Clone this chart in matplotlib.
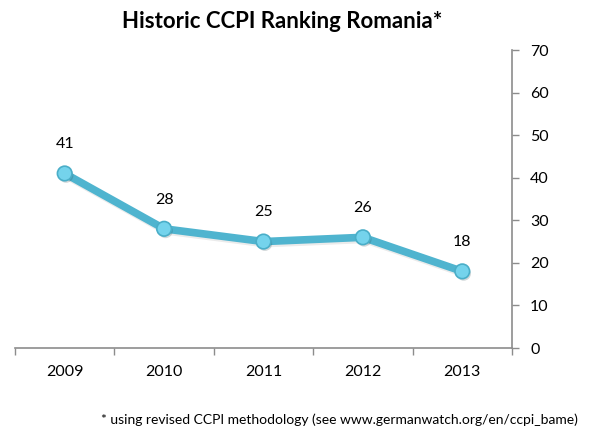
import matplotlib
matplotlib.use("Agg")
import matplotlib.pyplot as plt
import matplotlib.patheffects as pe

years = ["2009", "2010", "2011", "2012", "2013"]
ranks = [41, 28, 25, 26, 18]
yticks = [0, 10, 20, 30, 40, 50, 60, 70]
title = "Historic CCPI Ranking Romania*"
footnote = "* using revised CCPI methodology (see www.germanwatch.org/en/ccpi_bame)"

plt.rcParams['font.family'] = ['Lato', 'DejaVu Sans']

fig = plt.figure(figsize=(5.93, 4.34), dpi=100)
W, H = 593, 434
ax = fig.add_axes([15 / W, (H - 348) / H, (512 - 15) / W, (348 - 50) / H])

x = list(range(len(years)))
line_col = "#4FB4CF"
ax.plot(x, ranks, color=line_col, lw=5.5, solid_capstyle="round", zorder=2,
        path_effects=[pe.SimpleLineShadow(offset=(1, -1.5), alpha=0.08), pe.Normal()])
ax.plot(x, ranks, linestyle="none", marker="o", ms=10.5, mfc="#74D3EC", mec="#4AAEC8", mew=1.2,
        zorder=3, path_effects=[pe.SimplePatchShadow(offset=(1, -1.5), alpha=0.2), pe.Normal()])

for xi, v in zip(x, ranks):
    ax.annotate(str(v), (xi, v), xytext=(0, 21), textcoords="offset points",
                ha="center", va="center", fontsize=11.5, color="black")

ax.set_xlim(-0.5, len(years) - 0.5)
ax.set_ylim(0, 70)
ax.set_yticks(yticks)
ax.yaxis.tick_right()
ax.set_xticks([i - 0.5 for i in range(len(years) + 1)], minor=False)
ax.set_xticklabels([])
ax.set_xticks(x, minor=True)
ax.set_xticklabels(years, minor=True, fontsize=11.5)
ax.tick_params(axis="x", which="major", direction="out", length=5, color="#8c8c8c", width=1)
ax.tick_params(axis="x", which="minor", length=0, pad=12)
ax.tick_params(axis="y", direction="out", length=5, color="#8c8c8c", width=1, labelsize=11.5, pad=8)

for s in ["top", "left"]:
    ax.spines[s].set_visible(False)
for s in ["bottom", "right"]:
    ax.spines[s].set_color("#8c8c8c")
    ax.spines[s].set_linewidth(1.2)

fig.text(282 / W, 1 - 21 / H, title, ha="center", va="center", fontsize=16, fontweight="bold")
fig.text(578 / W, 1 - 420 / H, footnote, ha="right", va="center", fontsize=10)

fig.savefig("out.png", dpi=100)
